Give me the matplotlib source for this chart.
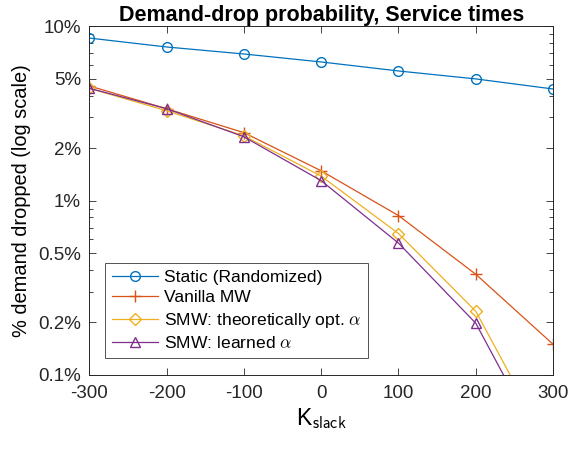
import matplotlib
matplotlib.use("Agg")
import matplotlib.pyplot as plt
import numpy as np
from matplotlib.ticker import FixedLocator, FixedFormatter, LogLocator, NullFormatter

plt.rcParams['font.family'] = ['Liberation Sans', 'DejaVu Sans']
plt.rcParams['mathtext.fontset'] = 'cm'

k_slack = [-300, -200, -100, 0, 100, 200, 300]
static = [8.54, 7.59, 6.92, 6.23, 5.53, 4.98, 4.36]
vanilla = [4.54, 3.36, 2.45, 1.48, 0.82, 0.378, 0.150]
smw_theory = [4.40, 3.27, 2.35, 1.38, 0.647, 0.232, 0.035]
smw_learned = [4.40, 3.36, 2.32, 1.30, 0.57, 0.198, 0.0295]

ytick_vals = [0.1, 0.2, 0.5, 1, 2, 5, 10]
ytick_labels = ['0.1%', '0.2%', '0.5%', '1%', '2%', '5%', '10%']
xtick_vals = [-300, -200, -100, 0, 100, 200, 300]

fig = plt.figure(figsize=(5.69, 4.5), dpi=100)
ax = fig.add_axes([0.157, 0.1667, 0.972 - 0.157, 0.942 - 0.1667])

lw = 0.9
ax.plot(k_slack, static, color='#0072BD', marker='o', mfc='none', ms=7, lw=lw, label='Static (Randomized)')
ax.plot(k_slack, vanilla, color='#D95319', marker='+', ms=8, lw=lw, label='Vanilla MW')
ax.plot(k_slack, smw_theory, color='#EDB120', marker='D', mfc='none', ms=6, lw=lw,
        label=r'SMW: theoretically opt. $\alpha$')
ax.plot(k_slack, smw_learned, color='#7E2F8E', marker='^', mfc='none', ms=7, lw=lw,
        label=r'SMW: learned $\alpha$')

ax.set_yscale('log')
ax.set_ylim(0.1, 10)
ax.set_xlim(-300, 300)
ax.yaxis.set_major_locator(FixedLocator(ytick_vals))
ax.yaxis.set_major_formatter(FixedFormatter(ytick_labels))
ax.yaxis.set_minor_locator(LogLocator(base=10, subs=np.arange(1, 10)))
ax.yaxis.set_minor_formatter(NullFormatter())
ax.set_xticks(xtick_vals)
ax.set_xticklabels([str(v) for v in xtick_vals])

ax.tick_params(which='both', direction='in', top=True, right=True, labelsize=13.5, colors='#262626')
ax.tick_params(axis='x', which='major', pad=7)
ax.tick_params(axis='y', which='major', pad=6)
ax.tick_params(which='major', length=5, width=0.6)
ax.tick_params(which='minor', length=3, width=0.6)
for s in ax.spines.values():
    s.set_color('#262626')
    s.set_linewidth(0.7)

ax.set_title('Demand-drop probability, Service times', fontsize=15.5, fontweight='bold', pad=4)
ax.set_ylabel('% demand dropped (log scale)', fontsize=14.4, labelpad=5)
ax.set_xlabel(r'K$_{\mathsf{slack}}$', fontsize=16.5, labelpad=3)

leg = ax.legend(loc='lower left', bbox_to_anchor=(0.034, 0.049), fontsize=12.6, frameon=True, fancybox=False,
                edgecolor='#262626', borderaxespad=0, handlelength=2.6,
                labelspacing=0.3, borderpad=0.4, handletextpad=0.35)
leg.get_frame().set_linewidth(0.7)

fig.savefig('out.png', dpi=100)
